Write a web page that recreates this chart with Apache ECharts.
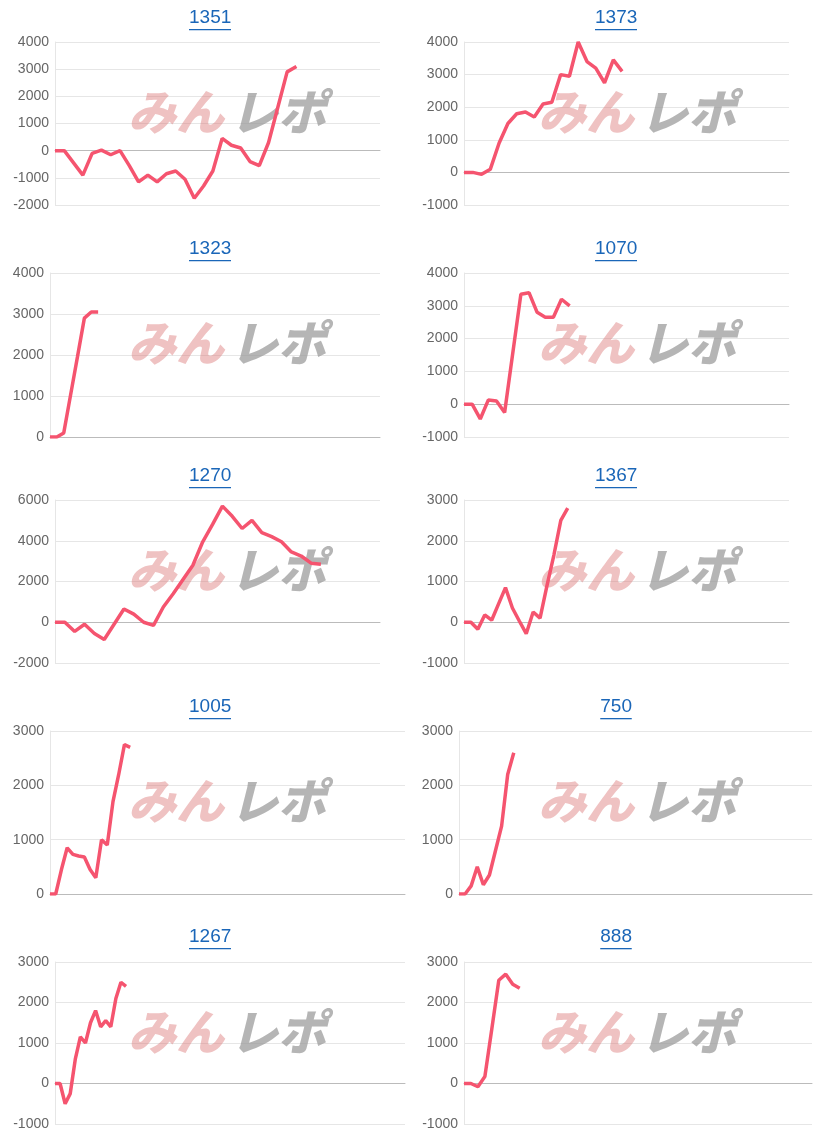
<!DOCTYPE html>
<html><head><meta charset="utf-8">
<script src="https://cdn.jsdelivr.net/npm/echarts@6/dist/echarts.min.js"></script>
<style>html,body{margin:0;padding:0;background:#fff}#c{width:813px;height:1140px}</style>
</head><body><div id="c"></div>
<script>
const titles = ['1351','1373','1323','1070','1270','1367','1005','750','1267','888'];
const s1351 = [0,0,-450,-900,-100,20,-150,0,-550,-1150,-900,-1150,-850,-750,-1050,-1750,-1300,-750,450,200,100,-400,-550,300,1600,2900,3100];
const s1373 = [0,0,-60,100,900,1500,1800,1850,1700,2100,2150,3000,2950,4000,3400,3200,2750,3450,3100];
const s1323 = [0,0,100,1030,1960,2900,3050,3050];
const s1070 = [0,0,-450,130,100,-250,1550,3350,3400,2800,2650,2650,3200,3000];
const s1270 = [0,0,-450,-100,-550,-850,-100,650,400,0,-150,750,1400,2100,2800,3950,4800,5700,5200,4600,5000,4400,4200,3950,3450,3250,2900,2850];
const s1367 = [0,0,-170,180,50,450,850,350,30,-280,250,100,900,1650,2500,2800];
const s1005 = [0,0,450,850,730,700,680,450,300,1000,900,1700,2200,2750,2700];
const s750 = [0,0,150,500,170,350,800,1250,2200,2600];
const s1267 = [0,0,-500,-250,600,1150,1000,1500,1800,1400,1550,1400,2100,2500,2400];
const s888 = [0,0,-80,170,1350,2550,2700,2450,2350];
const seriesData = [s1351,s1373,s1323,s1070,s1270,s1367,s1005,s750,s1267,s888];
const slots = [36,38,49,41,34,48,63,59,70,51];
const yMin = [-2000,-1000,0,-1000,-2000,-1000,0,0,-1000,-1000];
const yMax = [4000,4000,4000,4000,6000,3000,3000,3000,3000,3000];
const yStep = [1000,1000,1000,1000,2000,1000,1000,1000,1000,1000];

const L = [
 {l:55,r:380},{l:464,r:789},
 {l:50,r:380},{l:464,r:789},
 {l:55,r:380},{l:464,r:789},
 {l:50,r:405},{l:459,r:812},
 {l:55,r:405},{l:464,r:812}];
const tops=[42,273,500,731,962], bots=[205,437,663,894,1124], titleY=[19,250,477,708,938];

const grids=[],xA=[],yA=[],series=[],graphics=[];
for(let i=0;i<10;i++){
  const row=Math.floor(i/2), g=L[i];
  grids.push({left:g.l,width:g.r-g.l,top:tops[row],height:bots[row]-tops[row]});
  xA.push({type:'category',gridIndex:i,boundaryGap:false,data:Array.from({length:slots[i]},(_,k)=>k+1),
    axisLabel:{show:false},axisTick:{show:false},axisLine:{onZero:true,lineStyle:{color:'#bbb'}}});
  yA.push({type:'value',gridIndex:i,min:yMin[i],max:yMax[i],interval:yStep[i],
    axisLabel:{color:'#666',fontSize:14,fontFamily:'Liberation Sans, Arial',margin:6,formatter:v=>String(v)},
    axisLine:{show:true,lineStyle:{color:'#e6e6e6'}},
    splitLine:{lineStyle:{color:'#e6e6e6'}}});
  series.push({type:'line',xAxisIndex:i,yAxisIndex:i,data:seriesData[i],showSymbol:false,
    lineStyle:{color:'#f5546f',width:3.5},itemStyle:{color:'#f5546f'},z:5});
  const cx=(i%2===0)?210:616;
  const w=titles[i].length*10.5;
  graphics.push({type:'text',left:cx-w/2,top:titleY[row]-11,style:{text:titles[i],fill:'#1a66b8',font:'19px "Liberation Sans", Arial'}});
  graphics.push({type:'rect',shape:{x:cx-w/2,y:titleY[row]+10,width:w,height:1.3},style:{fill:'#1a66b8'}});
  const wx=(i%2===0)?128:538, wy=tops[row]+46;
  graphics.push({type:'text',x:wx,y:wy,z:1,style:{text:'みん',fill:'rgba(220,120,120,0.45)',font:'italic 900 48px "Noto Sans CJK JP"'}});
  graphics.push({type:'text',x:wx+102,y:wy,z:1,style:{text:'レポ',fill:'rgba(150,150,150,0.7)',font:'italic 900 48px "Noto Sans CJK JP"'}});
}
const chart=echarts.init(document.getElementById('c'),null,{renderer:'canvas'});
chart.setOption({animation:false,grid:grids,xAxis:xA,yAxis:yA,series:series,graphic:graphics});
</script></body></html>
